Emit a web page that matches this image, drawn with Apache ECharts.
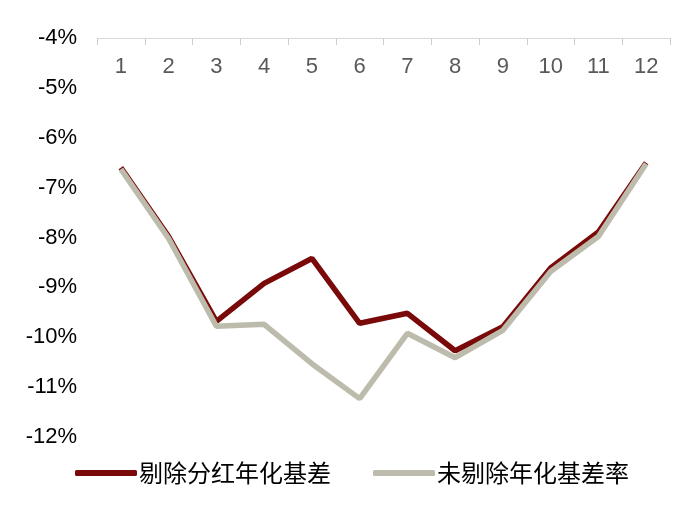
<!DOCTYPE html>
<html>
<head>
<meta charset="utf-8">
<script src="https://cdn.jsdelivr.net/npm/echarts@6/dist/echarts.min.js"></script>
<style>html,body{margin:0;padding:0;background:#fff;}#c{width:700px;height:512px;}</style>
</head>
<body>
<div id="c"></div>
<script>
var categories = ['1','2','3','4','5','6','7','8','9','10','11','12'];
var seriesNames = ['剔除分红年化基差', '未剔除年化基差率'];
var exDividend = [-6.60, -7.98, -9.68, -8.92, -8.42, -9.72, -9.52, -10.27, -9.79, -8.61, -7.89, -6.50];
var raw = [-6.63, -8.02, -9.78, -9.74, -10.53, -11.23, -9.92, -10.41, -9.86, -8.68, -7.98, -6.52];

var chart = echarts.init(document.getElementById('c'));
chart.setOption({
  animation: false,
  backgroundColor: '#ffffff',
  grid: { left: 97, right: 30, top: 38, bottom: 75 },
  legend: {
    left: 70, top: 456,
    itemWidth: 62, itemHeight: 6, itemGap: 42,
    icon: 'roundRect',
    textStyle: { fontSize: 24, color: '#000', fontFamily: '"Noto Sans CJK SC", sans-serif', padding: [0,0,0,-3] },
    data: seriesNames
  },
  xAxis: {
    type: 'category',
    position: 'top',
    data: categories,
    boundaryGap: true,
    axisLine: { lineStyle: { color: '#d9d9d9', width: 1 } },
    axisTick: { show: true, inside: true, length: 7, lineStyle: { color: '#cfcfcf', width: 1 } },
    axisLabel: { inside: true, margin: 18, color: '#595959', fontSize: 22, fontFamily: '"Liberation Sans", Arial, sans-serif' },
    splitLine: { show: false }
  },
  yAxis: {
    type: 'value',
    min: -12, max: -4, interval: 1,
    axisLine: { show: false },
    axisTick: { show: false },
    splitLine: { show: false },
    axisLabel: { margin: 20, color: '#000', fontSize: 22, fontFamily: '"Liberation Sans", Arial, sans-serif',
      formatter: function (v) { return v + '%'; } }
  },
  series: [
    {
      name: seriesNames[0], type: 'line', data: exDividend, symbol: 'none', z: 2,
      lineStyle: { color: '#7a0a0a', width: 5.5 }, itemStyle: { color: '#7a0a0a' }
    },
    {
      name: seriesNames[1], type: 'line', data: raw, symbol: 'none', z: 3,
      lineStyle: { color: '#bdbbab', width: 5.5 }, itemStyle: { color: '#bdbbab' }
    }
  ]
});
</script>
</body>
</html>
